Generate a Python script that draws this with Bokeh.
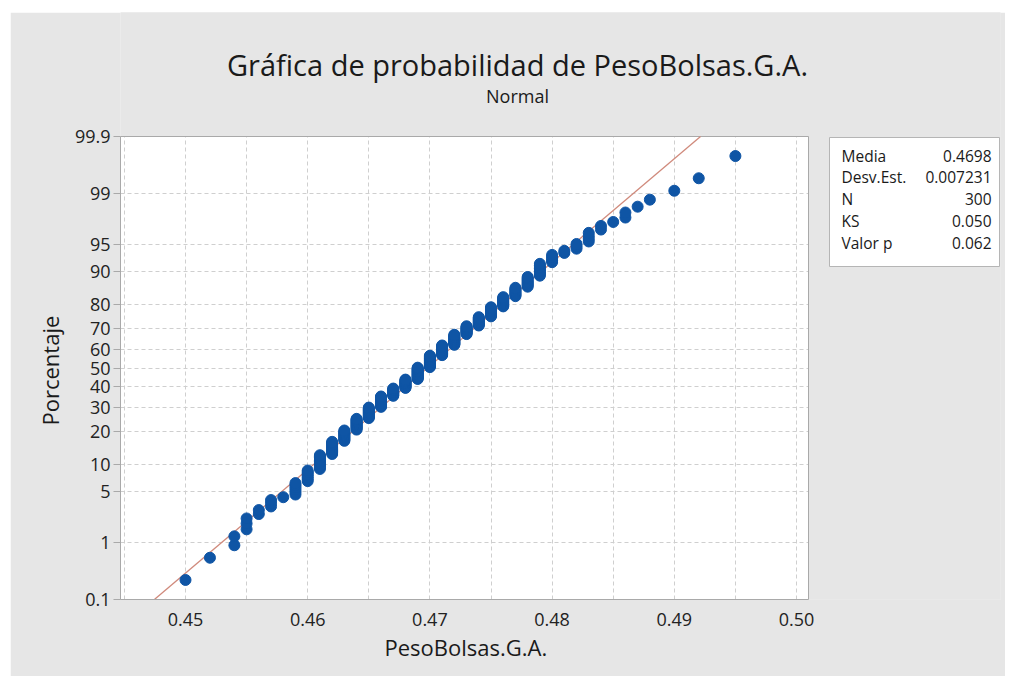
from statistics import NormalDist
import numpy as np
from bokeh.plotting import figure
from bokeh.models import FixedTicker, Range1d, ColumnDataSource, Title
from bokeh.embed import file_html
from bokeh.resources import INLINE
from bokeh.core.properties import value

# ---------------- data ----------------
weights = [0.450, 0.452, 0.454, 0.455, 0.456, 0.457, 0.458, 0.459, 0.460, 0.461,
           0.462, 0.463, 0.464, 0.465, 0.466, 0.467, 0.468, 0.469, 0.470, 0.471,
           0.472, 0.473, 0.474, 0.475, 0.476, 0.477, 0.478, 0.479, 0.480, 0.481,
           0.482, 0.483, 0.484, 0.485, 0.486, 0.487, 0.488, 0.490, 0.492, 0.495]
counts = [1, 1, 2, 3, 2, 3, 1, 6, 7, 11,
          12, 12, 14, 15, 16, 12, 14, 19, 19, 16,
          16, 12, 12, 12, 11, 9, 9, 9, 5, 2,
          3, 4, 2, 1, 2, 1, 1, 1, 1, 1]
pct_ticks = [0.1, 1, 5, 10, 20, 30, 40, 50, 60, 70, 80, 90, 95, 99, 99.9]
pct_labels = ["0.1", "1", "5", "10", "20", "30", "40", "50", "60", "70", "80", "90", "95", "99", "99.9"]
x_ticks = [0.45, 0.46, 0.47, 0.48, 0.49, 0.50]
x_tick_labels = ["0.45", "0.46", "0.47", "0.48", "0.49", "0.50"]
x_grid = [0.445, 0.450, 0.455, 0.460, 0.465, 0.470, 0.475, 0.480, 0.485, 0.490, 0.495, 0.500]
stat_names = ["Media", "Desv.Est.", "N", "KS", "Valor p"]
stat_values = ["0.4698", "0.007231", "300", "0.050", "0.062"]
mean = 0.4698
sd = 0.007231

title_text = "Gráfica de probabilidad de PesoBolsas.G.A."
subtitle_text = "Normal"
x_label = "PesoBolsas.G.A."
y_label = "Porcentaje"

# ---------------- derived ----------------
nd = NormalDist()
xs = np.repeat(weights, counts)
n = len(xs)
ranks = np.arange(1, n + 1)
zs = [nd.inv_cdf((r - 0.3) / (n + 0.4)) for r in ranks]
z_ticks = [nd.inv_cdf(p / 100.0) for p in pct_ticks]
zlo, zhi = z_ticks[0], z_ticks[-1]
line_z = [zlo, zhi]
line_x = [mean + sd * z for z in line_z]

# page-pixel -> data helpers (layout only)
def X(px):
    return 0.45 + (px - 185) / 12220.0

PZ = (599 - 136) / (zhi - zlo)

def Z(py):
    return zhi - (py - 136) / PZ

FONT = "Open Sans"
BG = "#e6e6e6"
GRID = "#cfcfcf"
AXC = "#a9a9a9"
TXT = "#1a1a1a"

p = figure(width=995, height=664, x_range=Range1d(X(120), X(1000)), y_range=Range1d(zlo, Z(12)),
           output_backend="svg", toolbar_location=None, title=None,
           min_border_left=110, min_border_right=5, min_border_top=0, min_border_bottom=77)
p.styles = {"margin-left": "10px", "margin-top": "12px"}
p.background_fill_color = BG
p.border_fill_color = BG
p.outline_line_color = None

# white plotting area underneath the grid
p.quad(left=[X(120)], right=[X(808)], bottom=[zlo], top=[zhi], fill_color="white",
       line_color=None, level="image")

p.xaxis.ticker = FixedTicker(ticks=x_ticks, minor_ticks=[])
p.xaxis.major_label_overrides = {t: l for t, l in zip(x_ticks, x_tick_labels)}
p.xaxis.bounds = (X(120), X(808))
p.yaxis.ticker = FixedTicker(ticks=z_ticks, minor_ticks=[])
p.yaxis.major_label_overrides = {t: l for t, l in zip(z_ticks, pct_labels)}
p.yaxis.bounds = (zlo, zhi)
for ax in (p.xaxis[0], p.yaxis[0]):
    ax.axis_line_color = AXC
    ax.major_tick_line_color = AXC
    ax.major_tick_in = 0
    ax.minor_tick_line_color = None
    ax.major_label_text_font = FONT
    ax.major_label_text_font_size = "18px"
    ax.major_label_text_color = "#222222"
p.xaxis.major_tick_out = 0
p.yaxis.major_tick_out = 7
p.xaxis.major_label_standoff = 13
p.yaxis.major_label_standoff = 3

# axis titles as side-panel titles so they centre on the plotting area
p.add_layout(Title(text=x_label, align="left", offset=264, standoff=2,
                   text_font=FONT, text_font_size="22px", text_font_style="normal",
                   text_color=TXT), "below")
p.add_layout(Title(text=y_label, align="left", offset=174, standoff=14,
                   text_font=FONT, text_font_size="22px", text_font_style="normal",
                   text_color=TXT), "left")

p.xgrid.ticker = FixedTicker(ticks=x_grid)
p.ygrid.ticker = FixedTicker(ticks=z_ticks[1:-1])
for g in (p.xgrid[0], p.ygrid[0]):
    g.grid_line_color = GRID
    g.grid_line_dash = "4 3"
    g.grid_line_width = 1

# cover grid outside the plotting area
p.quad(left=[X(120), X(808)], right=[X(1001), X(1001)], bottom=[zhi, zlo - 1], top=[Z(0), zhi],
       fill_color=BG, line_color=None)
# plotting-area border
p.quad(left=[X(120)], right=[X(808)], bottom=[zlo], top=[zhi], fill_color=None, line_color=AXC)

p.line(line_x, line_z, line_color="#d08a7c", line_width=1.3)
p.scatter(xs, zs, size=11, fill_color="#0f55a5", line_color="#0f55a5")

# stats table
p.quad(left=[X(829)], right=[X(999)], top=[Z(137)], bottom=[Z(266)], fill_color="white",
       line_color="#b5b5b5")
rows = np.arange(len(stat_names))
src = ColumnDataSource(dict(name=stat_names, val=stat_values,
                            y=[Z(155 + 21.8 * i) for i in rows],
                            xl=[X(841)] * len(rows), xr=[X(991)] * len(rows)))
p.text(x="xl", y="y", text="name", source=src, text_align="left", text_baseline="middle",
       text_font=value(FONT), text_font_size="15.5px", text_color=TXT)
p.text(x="xr", y="y", text="val", source=src, text_align="right", text_baseline="middle",
       text_font=value(FONT), text_font_size="15.5px", text_color=TXT)

# titles
p.text(x=[X(517)], y=[Z(64)], text=[title_text], text_align="center", text_baseline="middle",
       text_font=value(FONT), text_font_size="29px", text_color=TXT)
p.text(x=[X(517)], y=[Z(95)], text=[subtitle_text], text_align="center", text_baseline="middle",
       text_font=value(FONT), text_font_size="18px", text_color=TXT)

open("out.html", "w").write(file_html(p, INLINE))
